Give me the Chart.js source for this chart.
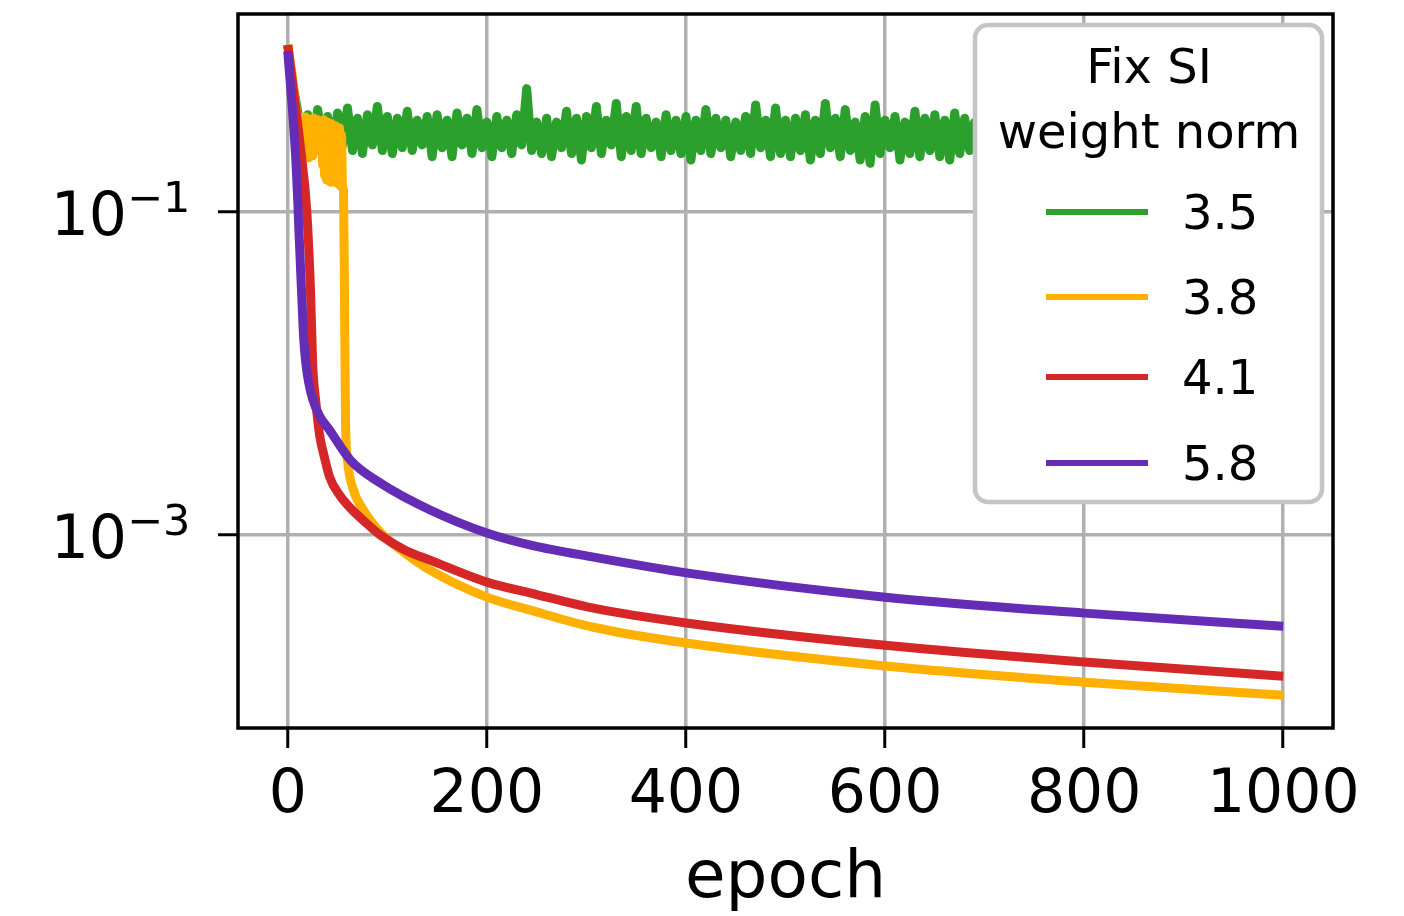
<!DOCTYPE html>
<html>
<head>
<meta charset="utf-8">
<script src="https://cdn.jsdelivr.net/npm/chart.js@4.4.1/dist/chart.umd.min.js"></script>
<style>
  html, body { margin: 0; padding: 0; background: #fff; }
  #wrap { width: 1404px; height: 916px; }
</style>
</head>
<body>
<div id="wrap"><canvas id="loss-chart" width="1404" height="916"></canvas></div>
<script>
const seriesNames = ["3.5", "3.8", "4.1", "5.8"];
const seriesColors = ["#2ca02c", "#ffb000", "#d62728", "#652db5"];
const legendTitle = ["Fix SI", "weight norm"];

const xTicks = [0, 200, 400, 600, 800, 1000];
const yTicks = [1e-3, 1e-1];
const yTickExponents = ["\u22123", "\u22121"];

// weight norm 3.5 never converges, logged every 5 epochs from epoch 0
const loss35 = [1.08,
  0.62, 0.42, 0.25, 0.40, 0.24, 0.43, 0.27, 0.39, 0.23, 0.41,
  0.26, 0.44, 0.24, 0.38, 0.23, 0.40, 0.26, 0.45, 0.24, 0.39,
  0.23, 0.38, 0.25, 0.42, 0.24, 0.37, 0.26, 0.39, 0.22, 0.40,
  0.25, 0.37, 0.22, 0.41, 0.26, 0.38, 0.23, 0.43, 0.25, 0.36,
  0.22, 0.39, 0.25, 0.37, 0.23, 0.40, 0.26, 0.58, 0.24, 0.36,
  0.23, 0.38, 0.22, 0.36, 0.25, 0.42, 0.23, 0.38, 0.21, 0.39,
  0.25, 0.45, 0.23, 0.37, 0.26, 0.47, 0.22, 0.39, 0.24, 0.45,
  0.23, 0.38, 0.25, 0.36, 0.22, 0.40, 0.24, 0.37, 0.23, 0.39,
  0.21, 0.37, 0.24, 0.43, 0.23, 0.38, 0.25, 0.37, 0.22, 0.36,
  0.24, 0.39, 0.23, 0.46, 0.25, 0.37, 0.22, 0.44, 0.23, 0.37,
  0.22, 0.38, 0.24, 0.40, 0.21, 0.37, 0.23, 0.47, 0.25, 0.38,
  0.22, 0.43, 0.24, 0.36, 0.21, 0.39, 0.20, 0.46, 0.23, 0.37,
  0.25, 0.39, 0.21, 0.36, 0.23, 0.42, 0.22, 0.38, 0.24, 0.40,
  0.22, 0.37, 0.21, 0.41, 0.23, 0.38, 0.24, 0.36, 0.22, 0.39,
  0.23, 0.37, 0.22, 0.40, 0.24, 0.36, 0.22, 0.39, 0.23, 0.38,
  0.24, 0.41, 0.22, 0.37, 0.23, 0.39, 0.24, 0.36, 0.22, 0.40,
  0.22, 0.38, 0.24, 0.37, 0.22, 0.41, 0.23, 0.36, 0.22, 0.39,
  0.23, 0.37, 0.22, 0.40, 0.24, 0.38, 0.22, 0.39, 0.23, 0.37,
  0.22, 0.41, 0.23, 0.36, 0.22, 0.38, 0.24, 0.39, 0.22, 0.37,
  0.23, 0.40, 0.22, 0.38, 0.24, 0.37, 0.22, 0.39, 0.23, 0.36
];

const epochs38 = [0, 5, 9,
  10, 11, 12, 13, 14, 15, 16, 17, 18, 19, 20, 21, 22, 23, 24, 25, 26, 27, 28, 29,
  30, 31, 32, 33, 34, 35, 36, 37, 38, 39, 40, 41, 42, 43, 44, 45, 46, 47, 48, 49,
  50, 51, 52, 53, 54, 55, 56, 57, 58, 60, 65, 76, 93, 110, 143, 200, 244, 307, 402,
  600, 800, 1000];
const loss38 = [1.08, 0.66, 0.41,
  0.382, 0.242, 0.372, 0.225, 0.382, 0.216, 0.346, 0.260, 0.387, 0.236, 0.361, 0.216, 0.372, 0.242, 0.346, 0.222, 0.382, 0.249, 0.361, 0.242,
  0.372, 0.256, 0.351, 0.242, 0.361, 0.195, 0.372, 0.169, 0.346, 0.158, 0.361, 0.182, 0.331, 0.153, 0.351, 0.167, 0.322, 0.153, 0.341, 0.163,
  0.313, 0.149, 0.331, 0.145, 0.300, 0.141, 0.137, 0.0285, 0.00515, 0.00291, 0.00198, 0.00143, 0.00104, 0.000843, 0.000607, 0.000413, 0.000343, 0.000269, 0.000214,
  0.000155, 0.000123, 0.000102];

const epochs41 = [0, 6, 13, 19, 23, 25, 28, 32, 37, 42, 52, 62, 78, 93, 118, 143, 200, 244, 307, 402, 600, 800, 1000];
const loss41 = [1.08, 0.55, 0.242, 0.103, 0.0306, 0.01146, 0.00685, 0.00416, 0.0030, 0.00229, 0.00177, 0.00149, 0.0012,
  0.001, 0.000807, 0.0007, 0.000512, 0.000438, 0.000353, 0.000285, 0.000208, 0.000164, 0.000134];

const epochs58 = [0, 8, 10, 11, 14, 16, 18, 21, 25, 32, 42, 63, 93, 143, 200, 244, 307, 402, 600, 800, 1000];
const loss58 = [0.99, 0.216, 0.119, 0.0819, 0.0306, 0.0165, 0.0118, 0.0088, 0.00695, 0.00546, 0.00447, 0.00291, 0.0021, 0.00143,
  0.00103, 0.000867, 0.000731, 0.000582, 0.000413, 0.000329, 0.000273];

const FONT = '"DejaVu Sans", "Liberation Sans", sans-serif';

function points(epochs, loss) {
  return loss.map((v, i) => ({ x: epochs[i], y: v }));
}
const epochs35 = loss35.map((v, i) => i * 5);

function lineSet(idx, data, smooth) {
  return {
    label: seriesNames[idx],
    data: data,
    borderColor: seriesColors[idx],
    backgroundColor: seriesColors[idx],
    borderWidth: 9,
    pointRadius: 0,
    fill: false,
    tension: 0,
    cubicInterpolationMode: smooth ? "monotone" : "default",
    borderJoinStyle: "round",
    borderCapStyle: "butt",
    order: 3 - idx
  };
}

// black box around the plot area
const frame = {
  id: "frame",
  afterDatasetsDraw(chart) {
    const a = chart.chartArea, ctx = chart.ctx;
    ctx.save();
    ctx.strokeStyle = "#000";
    ctx.lineWidth = 3.5;
    ctx.strokeRect(a.left, a.top, a.right - a.left, a.bottom - a.top);
    ctx.restore();
  }
};

// 10^n labels on the log axis
const powerLabels = {
  id: "powerLabels",
  afterDraw(chart) {
    const y = chart.scales.y, ctx = chart.ctx;
    ctx.save();
    ctx.fillStyle = "#000";
    ctx.textBaseline = "alphabetic";
    yTicks.forEach((v, i) => {
      const py = y.getPixelForValue(v);
      ctx.font = "60px " + FONT;
      ctx.textAlign = "right";
      ctx.fillText("10", 127, py + 23);
      ctx.font = "43px " + FONT;
      ctx.textAlign = "left";
      ctx.fillText(yTickExponents[i], 127, py);
    });
    ctx.restore();
  }
};

// titled legend box in the upper right
const boxLegend = {
  id: "boxLegend",
  afterDraw(chart) {
    const ctx = chart.ctx;
    const x0 = 975, y0 = 25, w = 347, h = 477, r = 13;
    ctx.save();
    ctx.beginPath();
    ctx.roundRect(x0, y0, w, h, r);
    ctx.fillStyle = "#fff";
    ctx.fill();
    ctx.strokeStyle = "#c4c4c4";
    ctx.lineWidth = 4.5;
    ctx.stroke();

    ctx.fillStyle = "#000";
    ctx.font = "48px " + FONT;
    ctx.textAlign = "center";
    ctx.textBaseline = "alphabetic";
    ctx.fillText(legendTitle[0], 1149, 83);
    ctx.fillText(legendTitle[1], 1149, 148);

    const rows = [212, 297, 377, 463];
    ctx.textAlign = "left";
    seriesNames.forEach((name, i) => {
      ctx.strokeStyle = seriesColors[i];
      ctx.lineWidth = 6;
      ctx.beginPath();
      ctx.moveTo(1046, rows[i]);
      ctx.lineTo(1148, rows[i]);
      ctx.stroke();
      ctx.fillText(name, 1182, rows[i] + 17);
    });
    ctx.restore();
  }
};

const ctx = document.getElementById("loss-chart").getContext("2d");
new Chart(ctx, {
  type: "line",
  data: {
    datasets: [
      lineSet(0, points(epochs35, loss35), false),
      lineSet(1, points(epochs38, loss38), true),
      lineSet(2, points(epochs41, loss41), true),
      lineSet(3, points(epochs58, loss58), true)
    ]
  },
  options: {
    responsive: false,
    animation: false,
    devicePixelRatio: 1,
    layout: { padding: { top: 14, right: 71, left: 0, bottom: 0 } },
    plugins: {
      legend: { display: false },
      tooltip: { enabled: false }
    },
    scales: {
      x: {
        type: "linear",
        min: -50,
        max: 1050,
        afterBuildTicks: (s) => { s.ticks = xTicks.map(v => ({ value: v })); },
        afterFit: (s) => { s.height = 188; },
        border: { display: false },
        grid: { color: "#b0b0b0", lineWidth: 3.5, tickColor: "#000", tickWidth: 3, tickLength: 20 },
        ticks: {
          color: "#000",
          font: { family: FONT, size: 60 },
          padding: 12,
          maxRotation: 0,
          callback: (v) => String(v)
        },
        title: {
          display: true,
          text: "epoch",
          color: "#000",
          font: { family: FONT, size: 66 },
          padding: { top: 0, bottom: -3 }
        }
      },
      y: {
        type: "logarithmic",
        min: 6.4e-5,
        max: 1.68,
        afterBuildTicks: (s) => { s.ticks = yTicks.map(v => ({ value: v })); },
        afterFit: (s) => { s.width = 238; },
        border: { display: false },
        grid: { color: "#b0b0b0", lineWidth: 3.5, tickColor: "#000", tickWidth: 3, tickLength: 20 },
        ticks: { display: false }
      }
    }
  },
  plugins: [frame, powerLabels, boxLegend]
});
</script>
</body>
</html>
